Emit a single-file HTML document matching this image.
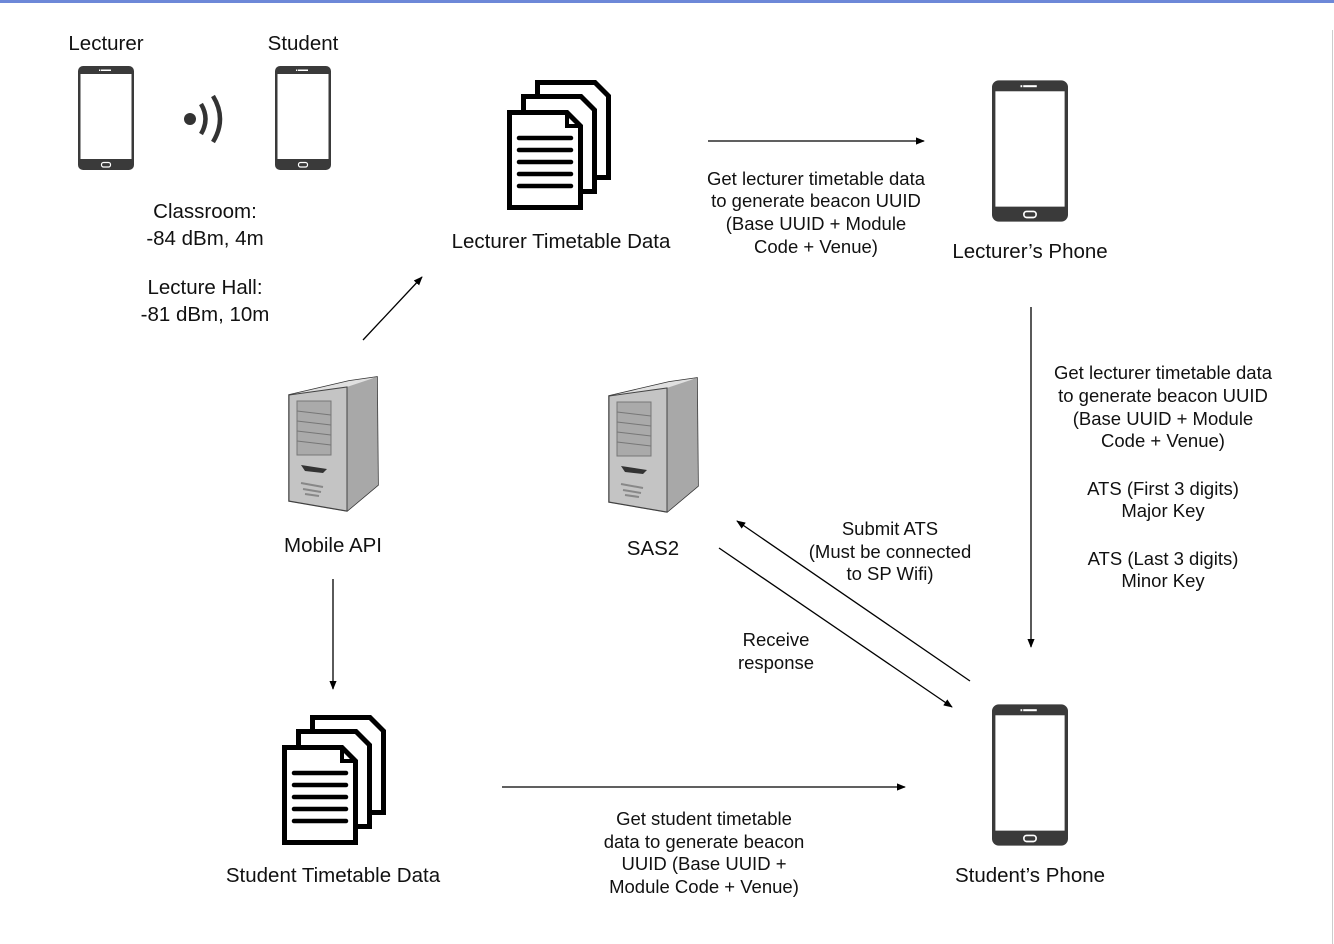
<!DOCTYPE html>
<html><head><meta charset="utf-8"><style>
html,body{margin:0;padding:0;background:#fff;}
svg{display:block;font-family:"Liberation Sans",sans-serif;}
</style></head><body>
<svg width="1334" height="944" viewBox="0 0 1334 944" xmlns="http://www.w3.org/2000/svg">
<defs>
<symbol id="phone" viewBox="0 0 56 104">
<rect x="0" y="0" width="56" height="104" rx="5" fill="#3a3a3a"/>
<rect x="2.5" y="8" width="51" height="85" fill="#fff"/>
<rect x="23" y="3.5" width="10" height="1.5" fill="#fff"/>
<rect x="21" y="3.5" width="1.3" height="1.5" fill="#fff"/>
<rect x="23.5" y="96.5" width="9" height="4.5" rx="2" fill="none" stroke="#fff" stroke-width="1.2"/>
</symbol>
<symbol id="page" viewBox="0 0 76 100">
<path d="M2.5 2.5 H60 L73.5 16 V97.5 H2.5 Z" fill="#fff" stroke="#000" stroke-width="5" stroke-linejoin="miter"/>
</symbol>
<symbol id="docs" viewBox="0 0 104 130">
<use href="#page" x="28" y="0" width="76" height="100"/>
<use href="#page" x="14" y="14" width="76" height="100"/>
<use href="#page" x="0" y="30" width="76" height="100"/>
<path d="M60 32 V46 H74" fill="none" stroke="#000" stroke-width="4"/>
<g stroke="#000" stroke-width="4.5" stroke-linecap="round">
<line x1="12" y1="58" x2="64" y2="58"/><line x1="12" y1="70" x2="64" y2="70"/>
<line x1="12" y1="82" x2="64" y2="82"/><line x1="12" y1="94" x2="64" y2="94"/>
<line x1="12" y1="106" x2="64" y2="106"/>
</g>
</symbol>
<symbol id="server" viewBox="0 0 92 142">
<path d="M2 22 L62 8 L90 4 L91 112 L60 138 L2 128 Z" fill="#bdbdbd" stroke="#333" stroke-width="1.5"/>
<path d="M2 22 L62 8 L90 4 L60 14 Z" fill="#e0e0e0"/>
<path d="M60 14 L90 4 L91 112 L60 138 Z" fill="#a8a8a8"/>
<path d="M2 22 L60 14 L60 138 L2 128 Z" fill="#c4c4c4" stroke="#444" stroke-width="1"/>
<rect x="10" y="28" width="34" height="54" fill="#aaa" stroke="#777"/>
<g stroke="#777" stroke-width="1"><line x1="10" y1="38" x2="44" y2="42"/><line x1="10" y1="48" x2="44" y2="52"/><line x1="10" y1="58" x2="44" y2="62"/><line x1="10" y1="68" x2="44" y2="72"/></g>
<path d="M14 92 L40 96 L36 100 L18 98 Z" fill="#333"/>
<g stroke="#888" stroke-width="2"><line x1="14" y1="110" x2="36" y2="114"/><line x1="16" y1="116" x2="34" y2="119"/><line x1="18" y1="121" x2="32" y2="123"/></g>
</symbol>
<marker id="ah" viewBox="0 0 10 10" refX="9" refY="5" markerWidth="7" markerHeight="7" orient="auto"><path d="M0 1 L10 5 L0 9 Z" fill="#000"/></marker>
</defs>
<rect x="0" y="0" width="1334" height="3" fill="#6d88d8"/>
<line x1="1332.5" y1="30" x2="1332.5" y2="944" stroke="#ccc"/>

<use href="#phone" x="78" y="66" width="56" height="104"/>
<use href="#phone" x="275" y="66" width="56" height="104"/>
<circle cx="190" cy="119" r="6" fill="#333"/>
<path d="M201 104 Q210 119 201 134" fill="none" stroke="#333" stroke-width="4.5"/>
<path d="M213 96 Q227 119 213 142" fill="none" stroke="#333" stroke-width="4.5"/>

<use href="#docs" x="507" y="80" width="104" height="130"/>
<use href="#docs" x="282" y="715" width="104" height="130"/>
<use href="#phone" x="992" y="80" width="76" height="142"/>
<use href="#phone" x="992" y="704" width="76" height="142"/>
<use href="#server" x="287" y="373" width="92" height="142"/>
<use href="#server" x="607" y="374" width="92" height="142"/>

<g font-size="20.5" fill="#111" text-anchor="middle">
<text x="106" y="50">Lecturer</text>
<text x="303" y="50">Student</text>
<text x="205" y="218">Classroom:</text>
<text x="205" y="245">-84 dBm, 4m</text>
<text x="205" y="294">Lecture Hall:</text>
<text x="205" y="321">-81 dBm, 10m</text>
<text x="561" y="248">Lecturer Timetable Data</text>
<text x="1030" y="258">Lecturer’s Phone</text>
<text x="333" y="552">Mobile API</text>
<text x="653" y="555">SAS2</text>
<text x="333" y="882">Student Timetable Data</text>
<text x="1030" y="882">Student’s Phone</text>
</g>
<g font-size="18.5" fill="#111" text-anchor="middle">
<text x="816" y="185">Get lecturer timetable data</text>
<text x="816" y="207">to generate beacon UUID</text>
<text x="816" y="230">(Base UUID + Module</text>
<text x="816" y="253">Code + Venue)</text>
<text x="1163" y="379">Get lecturer timetable data</text>
<text x="1163" y="402">to generate beacon UUID</text>
<text x="1163" y="425">(Base UUID + Module</text>
<text x="1163" y="447">Code + Venue)</text>
<text x="1163" y="495">ATS (First 3 digits)</text>
<text x="1163" y="517">Major Key</text>
<text x="1163" y="565">ATS (Last 3 digits)</text>
<text x="1163" y="587">Minor Key</text>
<text x="890" y="535">Submit ATS</text>
<text x="890" y="558">(Must be connected</text>
<text x="890" y="580">to SP Wifi)</text>
<text x="776" y="646">Receive</text>
<text x="776" y="669">response</text>
<text x="704" y="825">Get student timetable</text>
<text x="704" y="848">data to generate beacon</text>
<text x="704" y="870">UUID (Base UUID +</text>
<text x="704" y="893">Module Code + Venue)</text>
</g>
<g stroke="#000" stroke-width="1.3" fill="none" marker-end="url(#ah)">
<line x1="708" y1="141" x2="924" y2="141"/>
<line x1="1031" y1="307" x2="1031" y2="647"/>
<line x1="363" y1="340" x2="422" y2="277"/>
<line x1="333" y1="579" x2="333" y2="689"/>
<line x1="502" y1="787" x2="905" y2="787"/>
<line x1="970" y1="681" x2="737" y2="521"/>
<line x1="719" y1="548" x2="952" y2="707"/>
</g>
</svg>
</body></html>
